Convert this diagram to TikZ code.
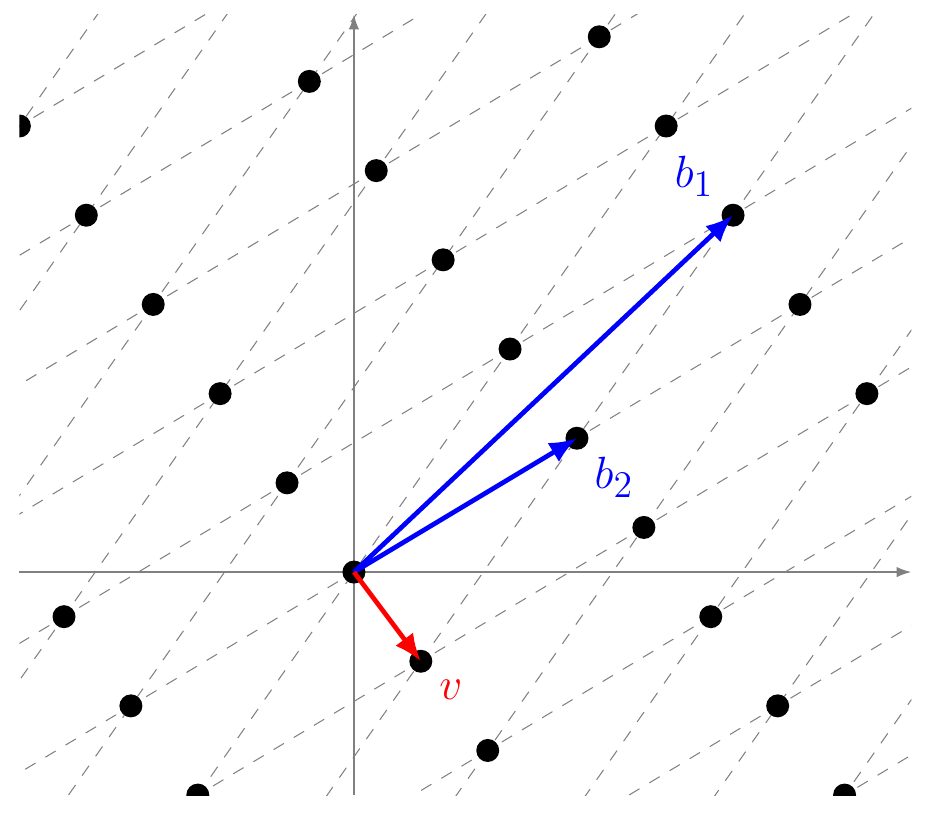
\documentclass[tikz,border=0pt]{standalone}
\usetikzlibrary{arrows.meta}
\begin{document}
\begin{tikzpicture}[x=0.3cm,y=0.3cm,
  axis/.style={draw=gray, line width=0.75pt, -{Latex[length=5.7pt,width=4pt]}},
  gridline/.style={draw=gray, line width=0.4pt, dash pattern=on 4.6pt off 4.4pt},
  latdot/.style={fill=black},
  vec/.style={line width=1.8pt, -{Latex[length=10.5pt,width=8.5pt]}},
  lbl/.style={font=\fontsize{19}{23}\selectfont, inner sep=0pt}]
\useasboundingbox (-15.87,-11.03) rectangle (25.92,25.65);
\coordinate (O) at (0,0);
\coordinate (B1) at (17,16);
\coordinate (B2) at (10,6);
\coordinate (V) at (3,-4);
\coordinate (XL) at (-15,0);
\coordinate (XR) at (25,0);
\coordinate (YB) at (0,-10);
\coordinate (YT) at (0,25);
\begin{scope}
  \clip (-15,-10) rectangle (25,25);
  \foreach \c in {-6,...,5} {
    \draw[gridline] ({3*\c-50},{-4*\c-30}) -- ({3*\c+50},{-4*\c+30});
  }
  \foreach \k in {-6,...,6} {
    \draw[gridline] ({10*\k-56},{6*\k-80}) -- ({10*\k+56},{6*\k+80});
  }
\end{scope}
\draw[axis] (XL) -- (XR);
\draw[axis] (YB) -- (YT);
\begin{scope}
  \clip (-15,-10) rectangle (25,25);
  \foreach \a in {-3,...,5} {
    \foreach \c in {-8,...,8} {
      \fill[latdot] ({10*\a+3*\c},{6*\a-4*\c}) circle (4.4pt);
    }
  }
\end{scope}
\draw[vec, blue] (O) -- (B1);
\draw[vec, blue] (O) -- (B2);
\draw[vec, red] (O) -- (V);
\node[lbl, text=blue] (lb1) at (15.25,17.74) {$b_1$};
\node[lbl, text=blue] (lb2) at (11.66,4.26) {$b_2$};
\node[lbl, text=red] (lv) at (4.35,-5.29) {$v$};
\end{tikzpicture}
\end{document}
